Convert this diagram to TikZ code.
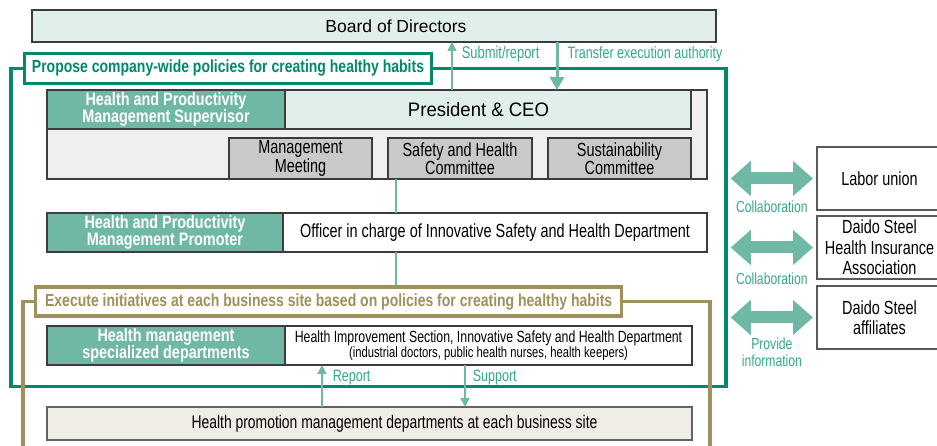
\documentclass[tikz,border=0pt]{standalone}
\usepackage{fontspec}
\setmainfont{Liberation Sans}
\newfontfamily\narrowsans{Liberation Sans}[FakeStretch=0.76]
\newfontfamily\tagsans{Liberation Sans}[FakeStretch=0.80]
\newfontfamily\widesans{Liberation Sans}[FakeStretch=0.95]
\usetikzlibrary{arrows.meta, positioning}
\definecolor{deepgreen}{RGB}{0,137,108}
\definecolor{tealfill}{RGB}{111,184,165}
\definecolor{palemint}{RGB}{225,239,236}
\definecolor{panelgray}{RGB}{239,239,239}
\definecolor{cellgray}{RGB}{201,201,201}
\definecolor{siteolive}{RGB}{160,144,92}
\definecolor{sitebeige}{RGB}{240,237,230}
\definecolor{labelgreen}{RGB}{52,168,138}
\definecolor{edgegray}{RGB}{60,60,60}

\begin{document}
\begin{tikzpicture}[
    x=1pt, y=-1pt,
    box/.style={draw=edgegray, line width=1.2pt, inner sep=0pt, outer sep=0pt, align=center, font=\narrowsans\fontsize{19}{18.5}\selectfont},
    rolebox/.style={box, fill=tealfill, text=white, minimum width=238pt, minimum height=39pt, font=\tagsans\bfseries\fontsize{18}{17.5}\selectfont},
    cellbox/.style={box, fill=cellgray, minimum width=143pt, minimum height=41pt},
    partnerbox/.style={box, draw=edgegray!85, fill=white, minimum width=125pt, minimum height=63pt, font=\narrowsans\fontsize{19}{20.5}\selectfont},
    frametag/.style={draw=#1, line width=3.5pt, fill=white, text=#1, inner sep=0pt, font=\tagsans\bfseries\fontsize{17.5}{17}\selectfont},
    siteframe/.style={draw=siteolive, line width=3.5pt},
    link/.style={draw=tealfill, line width=1.8pt},
    flow/.style={link, line width=1.6pt, -{Triangle[length=9pt,width=9pt]}},
    bigflow/.style={link, line width=3pt, -{Triangle[length=13pt,width=14pt]}},
    swap/.style={draw=tealfill, line width=12pt, {Triangle[length=20pt,width=34pt]}-{Triangle[length=20pt,width=34pt]}},
    note/.style={text=labelgreen, inner sep=0pt, align=center, font=\narrowsans\fontsize{16.5}{17}\selectfont}
]
\useasboundingbox (0,0) rectangle (937,446);

% Board and the company-wide frame
\node[box, fill=palemint, minimum width=684pt, minimum height=32pt, font=\fontsize{17.5}{18}\selectfont] (board) at (374,26) {\hspace*{44pt}Board of Directors};
\node[draw=deepgreen, line width=3.5pt, inner sep=0pt, minimum width=715pt, minimum height=318pt] (policyframe) at (368.5,227.5) {};
\node[frametag=deepgreen, minimum width=407pt, minimum height=30pt] (proposetag) at (228,68.5) {Propose company-wide policies for creating healthy habits};

% President block
\node[box, fill=panelgray, minimum width=660pt, minimum height=89pt] (presarea) at (377,134.5) {};
\node[rolebox, anchor=north west] (supervisor) at (presarea.north west) {Health and Productivity\\Management Supervisor};
\node[box, fill=palemint, right=0pt of supervisor, minimum width=406pt, minimum height=39pt, font=\widesans\fontsize{19.5}{19}\selectfont] (president) {President \& CEO\hspace*{19pt}};
\node[cellbox] (meeting) at (300.5,158.5) {Management\\Meeting};
\node[cellbox, right=16pt of meeting, minimum width=144pt] (safety) {Safety and Health\\Committee};
\node[cellbox, right=16pt of safety] (sustain) {Sustainability\\Committee};

% Promoter row
\node[rolebox, minimum width=236pt] (promoter) at (165,232.5) {Health and Productivity\\Management Promoter};
\node[box, fill=white, right=0pt of promoter, minimum width=424pt, minimum height=39pt] (officer) {Officer in charge of Innovative Safety and Health Department};

% Business site frame
\node[frametag=siteolive, minimum width=586pt, minimum height=29pt] (executetag) at (328.7,301.7) {Execute initiatives at each business site based on policies for creating healthy habits};
\coordinate (siteleft) at (23,446);
\coordinate (siteright) at (710,446);
\draw[siteframe] (executetag.west) -| (siteleft);
\draw[siteframe] (executetag.east) -| (siteright);

\node[rolebox] (specialists) at (166,345.5) {Health management\\specialized departments};
\node[box, fill=white, right=0pt of specialists, minimum width=407pt, minimum height=39pt, font=\narrowsans\fontsize{16.2}{15}\selectfont] (improvement) {Health Improvement Section, Innovative Safety and Health Department\\{\fontsize{14.8}{15}\selectfont(industrial doctors, public health nurses, health keepers)}};
\node[box, fill=sitebeige, draw=edgegray!80, minimum width=645pt, minimum height=33pt, font=\narrowsans\fontsize{18.3}{18}\selectfont] (sitedepts) at (369.5,423.5) {\hspace*{50pt}Health promotion management departments at each business site};

% Partners
\node[partnerbox] (union) at (879.5,178.5) {Labor union};
\node[partnerbox] (insurance) at (879.5,247.5) {Daido Steel\\Health Insurance\\Association};
\node[partnerbox] (affiliates) at (879.5,317.5) {Daido Steel\\affiliates};

% Connectors
\coordinate (spine) at (396,0);
\coordinate (submitx) at (452,0);
\coordinate (transferx) at (557,0);
\coordinate (reportx) at (322,0);
\coordinate (supportx) at (465,0);
\draw[flow] (submitx |- presarea.north) -- (submitx |- board.south) node[pos=0.75, right=9pt, note, font=\narrowsans\fontsize{17}{17}\selectfont] {Submit/report};
\draw[bigflow] (transferx |- board.south) -- (transferx |- presarea.north) node[pos=0.25, right=9pt, note] {Transfer execution authority};
\draw[link] (spine |- safety.south) -- (spine |- officer.north);
\draw[link] (spine |- officer.south) -- (spine |- executetag.north);
\draw[flow] (reportx |- sitedepts.north) -- (reportx |- improvement.south) node[pos=0.7, right=10pt, note] {Report};
\draw[flow] (supportx |- improvement.south) -- (supportx |- sitedepts.north) node[pos=0.3, right=7pt, note] {Support};

\draw[swap] ([xshift=3pt]policyframe.east |- union.west) -- ([xshift=-4pt]union.west) node[midway, below=16pt, note, font=\narrowsans\fontsize{16}{17}\selectfont] {Collaboration};
\draw[swap] ([xshift=3pt]policyframe.east |- insurance.west) -- ([xshift=-4pt]insurance.west) node[midway, below=19pt, note, font=\narrowsans\fontsize{16}{17}\selectfont] {Collaboration};
\draw[swap] ([xshift=3pt]policyframe.east |- affiliates.west) -- ([xshift=-4pt]affiliates.west) node[midway, below=14pt, note, font=\narrowsans\fontsize{16}{17.5}\selectfont] {Provide\\information};

\end{tikzpicture}
\end{document}
